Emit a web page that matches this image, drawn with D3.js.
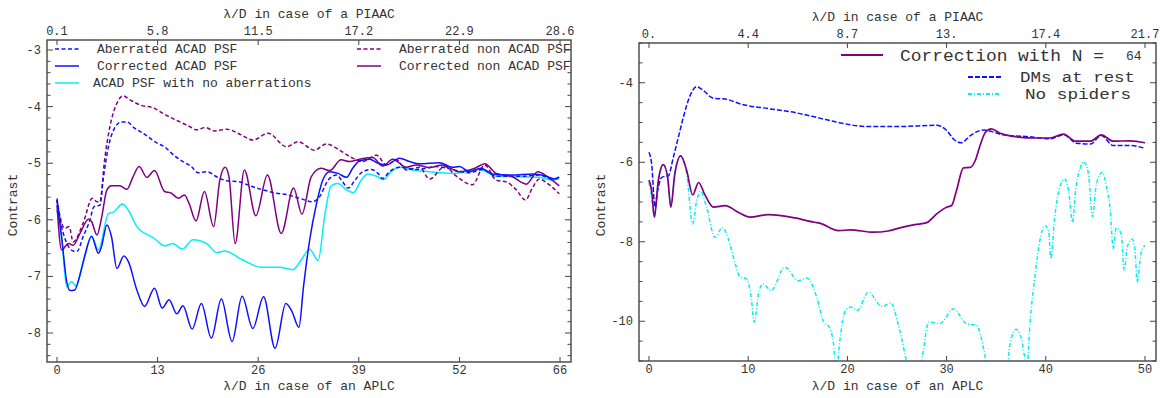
<!DOCTYPE html>
<html><head><meta charset="utf-8">
<script src="https://cdn.jsdelivr.net/npm/d3@7"></script>
<style>
body{margin:0;background:#fff}
text{font-family:"Liberation Mono","DejaVu Sans Mono",monospace;fill:#333}
</style>
</head><body>
<svg id="chart" width="1167" height="398"></svg>
<script>
// ---------------- DATA ----------------
// Left panel: x = lambda/D (APLC), y = log10 contrast
const leftXTicks = [0, 13.1, 26.2, 39.3, 52.4, 65.5];
const leftXTickLabels = ["0", "13", "26", "39", "52", "66"];
const leftTopTickLabels = ["0.1", "5.8", "11.5", "17.2", "22.9", "28.6"];
const leftYTicks = [-3, -4, -5, -6, -7, -8];

const leftAberratedAcad = [[0,-5.65],[0.6,-6.12],[1.3,-6.42],[2.1,-6.55],[2.6,-6.56],[3.4,-6.3],[4.3,-6.0],[4.8,-5.77],[5.6,-5.74],[6.0,-5.3],[6.7,-4.71],[7.5,-4.38],[8.4,-4.27],[9.1,-4.27],[10.1,-4.38],[11.2,-4.47],[13.0,-4.64],[14.0,-4.71],[15.3,-4.87],[16.4,-4.97],[17.5,-5.06],[18.4,-5.17],[19.5,-5.15],[20.8,-5.24],[22.1,-5.31],[23.8,-5.33],[25.1,-5.40],[26.8,-5.47],[28.6,-5.53],[30.1,-5.56],[31.6,-5.62],[33.3,-5.68],[34.2,-5.59],[35.3,-5.30],[36.4,-5.21],[37.2,-5.33],[37.9,-5.44],[38.8,-5.30],[39.8,-5.15],[40.9,-5.11],[41.8,-5.18],[42.4,-5.27],[43.3,-5.15],[44.6,-5.07],[46.8,-5.11],[49.4,-5.06],[51.5,-5.11],[53.7,-5.17],[55.4,-5.11],[57.2,-5.23],[60.2,-5.23],[62.8,-5.21],[64.5,-5.28],[65.4,-5.25]];

const leftCorrectedAcad = [[0,-5.65],[0.6,-6.3],[1.3,-7.12],[1.7,-7.25],[2.3,-7.24],[3.0,-6.97],[3.6,-6.65],[4.5,-6.29],[5.4,-6.59],[5.8,-6.47],[6.5,-6.09],[7.1,-6.30],[7.8,-6.86],[8.7,-6.64],[9.3,-6.74],[10.4,-7.24],[11.4,-7.53],[12.7,-7.21],[13.7,-7.56],[14.6,-7.41],[15.6,-7.66],[16.4,-7.52],[17.6,-7.93],[18.8,-7.48],[20.1,-8.09],[21.4,-7.40],[22.8,-8.15],[24.1,-7.35],[25.5,-7.92],[26.9,-7.36],[28.4,-8.27],[29.8,-7.48],[30.6,-7.62],[31.5,-7.90],[32.1,-7.18],[32.9,-6.36],[33.8,-5.71],[34.6,-5.30],[35.5,-5.15],[36.6,-5.18],[37.7,-5.25],[38.5,-5.09],[39.4,-4.96],[40.7,-4.93],[41.8,-5.0],[42.9,-5.03],[44.6,-4.91],[45.9,-4.97],[47.2,-5.01],[49.8,-4.99],[51.5,-5.07],[52.4,-5.06],[53.7,-5.15],[55.2,-5.09],[56.7,-5.19],[59.3,-5.21],[61.9,-5.19],[63.7,-5.23],[64.8,-5.28],[65.4,-5.24]];

const leftNoAberrations = [[0,-5.83],[0.6,-6.3],[1.26,-7.18],[1.9,-7.09],[2.47,-7.17],[3.4,-6.74],[4.5,-6.3],[5.4,-6.53],[6.7,-5.89],[7.4,-5.86],[8.5,-5.72],[9.3,-5.83],[10.4,-6.12],[12.7,-6.33],[14.0,-6.46],[15.1,-6.42],[16.3,-6.52],[17.7,-6.35],[19.5,-6.42],[20.8,-6.58],[21.8,-6.55],[24.2,-6.71],[26.6,-6.84],[29.0,-6.84],[30.7,-6.88],[31.8,-6.71],[32.9,-6.52],[34.0,-6.72],[34.9,-5.89],[35.7,-5.40],[36.6,-5.36],[37.7,-5.47],[38.6,-5.52],[39.6,-5.30],[40.5,-5.19],[41.6,-5.23],[42.5,-5.29],[43.5,-5.15],[44.6,-5.07],[46.3,-5.12],[48.5,-5.15],[51.5,-5.18],[55,-5.11],[57.2,-5.23],[60.2,-5.24],[62.8,-5.25],[64.5,-5.30],[65.4,-5.27]];

const leftAberratedNon = [[0,-5.62],[0.5,-6.0],[1.0,-6.15],[1.6,-6.12],[2.1,-6.39],[3.4,-6.06],[4.6,-5.62],[5.2,-5.68],[5.6,-5.68],[6.2,-4.94],[6.9,-4.35],[7.8,-3.94],[8.6,-3.81],[9.5,-3.88],[10.8,-3.97],[12.7,-4.03],[13.8,-4.12],[16.0,-4.27],[17.1,-4.34],[18.2,-4.41],[19.3,-4.37],[20.5,-4.43],[22.1,-4.40],[24.0,-4.50],[25.5,-4.59],[27.5,-4.47],[29.9,-4.71],[31.4,-4.62],[33.5,-4.77],[35.1,-4.66],[36.8,-4.77],[38.5,-4.91],[39.8,-4.97],[41.6,-4.86],[42.9,-5.03],[44.2,-4.94],[45.5,-5.12],[47.2,-5.07],[48.5,-5.28],[50.5,-5.06],[52,-5.23],[54.1,-5.38],[55.7,-5.03],[57.2,-5.3],[58.5,-5.33],[59.8,-5.47],[61.0,-5.65],[61.9,-5.44],[62.8,-5.28],[63.9,-5.36],[65.4,-5.54]];

const leftCorrectedNon = [[0,-5.74],[0.6,-6.53],[1.5,-6.42],[2.1,-6.45],[3.0,-6.24],[4.1,-5.99],[4.5,-6.03],[5.2,-6.27],[5.8,-5.97],[6.5,-5.47],[7.1,-5.40],[8.2,-5.40],[9.1,-5.46],[9.9,-5.24],[10.7,-5.06],[11.7,-5.25],[12.7,-5.13],[14.0,-5.50],[14.9,-5.53],[15.8,-5.62],[16.6,-5.56],[17.2,-5.71],[18.1,-6.02],[19.2,-5.50],[20.4,-6.12],[21.2,-5.30],[21.9,-5.07],[22.4,-5.24],[23.2,-6.42],[24.4,-5.12],[25.9,-5.93],[27.4,-5.21],[29.2,-6.24],[30.8,-5.44],[31.9,-5.9],[33.1,-5.24],[34.4,-5.09],[35.5,-5.13],[37.0,-4.94],[38.1,-4.97],[39.4,-4.93],[41.1,-4.9],[42.4,-5.05],[43.7,-4.93],[45.5,-5.07],[46.8,-5.03],[48.5,-5.08],[50.2,-5.03],[52.4,-5.15],[54.4,-5.09],[55.7,-5.01],[57.2,-5.18],[59.3,-5.24],[61.1,-5.37],[62.6,-5.15],[63.9,-5.24],[65.4,-5.40]];

// Right panel
const rightXTicks = [0, 10, 20, 30, 40, 50];
const rightXTickLabels = ["0", "10", "20", "30", "40", "50"];
const rightTopTickLabels = ["0.", "4.4", "8.7", "13.", "17.4", "21.7"];
const rightYTicks = [-4, -6, -8, -10];

const rightCorrection = [[0,-6.45],[0.27,-6.72],[0.54,-7.38],[0.94,-6.46],[1.44,-6.06],[1.88,-6.38],[2.2,-7.13],[2.6,-6.30],[3.2,-5.84],[3.8,-6.21],[4.4,-6.82],[5.0,-6.51],[5.6,-6.80],[6.5,-7.13],[7.7,-7.09],[9.0,-7.26],[10.2,-7.38],[12.0,-7.32],[14.7,-7.40],[16.7,-7.51],[17.2,-7.53],[19.1,-7.72],[20.3,-7.70],[22.6,-7.76],[24.1,-7.73],[25.3,-7.65],[26.8,-7.57],[28.0,-7.52],[29.0,-7.30],[30.0,-7.13],[30.5,-7.09],[31.0,-6.71],[31.7,-6.14],[32.4,-6.13],[32.9,-5.95],[33.4,-5.56],[33.9,-5.25],[34.5,-5.16],[35.4,-5.27],[36.7,-5.35],[39.1,-5.39],[40.4,-5.39],[41.8,-5.29],[43.0,-5.47],[44.5,-5.47],[45.6,-5.31],[46.8,-5.47],[48.5,-5.46],[50.0,-5.51]];

const rightDMsAtRest = [[0,-5.75],[0.27,-6.05],[0.6,-7.13],[0.87,-6.72],[1.28,-6.38],[1.95,-6.34],[2.45,-5.88],[2.96,-5.37],[3.46,-4.87],[4.13,-4.33],[4.8,-4.10],[5.3,-4.16],[6.5,-4.39],[7.7,-4.41],[9.3,-4.54],[12.0,-4.65],[14.7,-4.75],[17.2,-4.89],[19.3,-5.01],[21.9,-5.10],[25.3,-5.10],[29.0,-5.07],[30.0,-5.2],[30.8,-5.44],[31.5,-5.51],[32.4,-5.33],[33.7,-5.19],[35.7,-5.31],[38.4,-5.36],[40.4,-5.41],[41.8,-5.31],[43.1,-5.52],[44.5,-5.54],[45.6,-5.33],[46.8,-5.58],[48.5,-5.58],[50.0,-5.65]];

const rightNoSpiders = [[0,-6.51],[0.27,-6.88],[0.54,-7.38],[0.94,-6.46],[1.44,-6.06],[1.88,-6.38],[2.2,-7.09],[2.6,-6.25],[3.2,-5.84],[3.8,-6.30],[4.4,-7.55],[4.8,-6.97],[5.2,-6.73],[5.8,-7.13],[6.65,-7.89],[7.4,-7.64],[8.0,-7.93],[8.7,-8.56],[9.2,-8.89],[9.8,-8.93],[10.3,-9.39],[10.6,-10.02],[11.1,-9.23],[11.5,-9.06],[12.3,-9.23],[13.7,-8.64],[15.05,-8.98],[15.9,-8.91],[16.9,-9.39],[17.6,-10.02],[18.2,-10.16],[18.6,-10.57],[18.9,-11.3],[19.2,-10.57],[19.8,-9.73],[20.4,-9.64],[21.0,-9.73],[22.1,-9.27],[23.5,-9.63],[24.4,-9.54],[25.1,-10.06],[25.8,-10.82],[26.3,-11.4],[27.0,-11.6],[27.6,-10.82],[28.2,-10.02],[29.3,-10.06],[30.7,-9.69],[32.0,-10.06],[33.0,-10.10],[33.9,-10.9],[34.4,-11.6],[35.5,-11.9],[36.1,-11.3],[36.4,-10.57],[37.0,-10.2],[37.5,-10.4],[37.9,-10.94],[38.1,-11.2],[38.4,-10.06],[38.9,-8.89],[39.4,-7.97],[39.9,-7.59],[40.3,-7.76],[40.5,-8.43],[40.9,-7.38],[41.4,-6.63],[41.9,-6.42],[42.3,-6.71],[42.7,-7.51],[43.0,-6.71],[43.5,-6.13],[43.8,-5.98],[44.3,-6.29],[44.7,-7.37],[45.1,-6.55],[45.7,-6.25],[46.1,-6.59],[46.5,-7.22],[46.8,-8.18],[47.1,-7.65],[47.6,-7.80],[47.9,-8.72],[48.2,-8.14],[48.7,-7.93],[49.0,-8.22],[49.2,-9.02],[49.6,-8.30],[50.0,-8.09]];

// ---------------- DRAWING ----------------
const svg = d3.select("#chart");
const BLUE = "#1010ff", PURPLE = "#800080", CYAN = "#00f0f8";
const FRAME = "#444";

function panel(cfg) {
  const x = d3.scaleLinear().domain(cfg.xDomain).range([cfg.x0, cfg.x1]);
  const y = d3.scaleLinear().domain(cfg.yDomain).range([cfg.y0, cfg.y1]);
  const g = svg.append("g");
  const clipId = "clip" + cfg.id;
  svg.append("clipPath").attr("id", clipId).append("rect")
    .attr("x", cfg.x0).attr("y", cfg.y0).attr("width", cfg.x1 - cfg.x0).attr("height", cfg.y1 - cfg.y0);

  const line = d3.line().x(d => x(d[0])).y(d => y(d[1])).curve(d3.curveMonotoneX);
  const lg = g.append("g").attr("clip-path", `url(#${clipId})`);
  cfg.series.forEach(s => {
    lg.append("path").datum(s.data).attr("d", line)
      .attr("fill", "none").attr("stroke", s.color).attr("stroke-width", s.width || 1.5)
      .attr("stroke-dasharray", s.dash || null).attr("stroke-linejoin", "round");
  });

  g.append("rect").attr("x", cfg.x0).attr("y", cfg.y0)
    .attr("width", cfg.x1 - cfg.x0).attr("height", cfg.y1 - cfg.y0)
    .attr("fill", "none").attr("stroke", FRAME).attr("stroke-width", 1.4);

  cfg.xTicks.forEach((v, i) => {
    const px = x(v);
    g.append("line").attr("x1", px).attr("x2", px).attr("y1", cfg.y1).attr("y2", cfg.y1 - 5).attr("stroke", FRAME);
    g.append("line").attr("x1", px).attr("x2", px).attr("y1", cfg.y0).attr("y2", cfg.y0 + 5).attr("stroke", FRAME);
    g.append("text").attr("x", px).attr("y", cfg.y1 + 12).attr("text-anchor", "middle")
      .attr("font-size", 12).text(cfg.xTickLabels[i]);
    g.append("text").attr("x", px).attr("y", cfg.y0 - 5.5).attr("text-anchor", "middle")
      .attr("font-size", 12).text(cfg.topTickLabels[i]);
  });
  const [ya, yb] = d3.extent(cfg.yDomain);
  const minors = d3.range(Math.ceil(ya / cfg.minorStep) * cfg.minorStep, yb + 1e-9, cfg.minorStep);
  minors.forEach(v => {
    const py = y(v);
    const major = cfg.yTicks.some(t => Math.abs(t - v) < 1e-6);
    const len = major ? 6 : 3.5;
    g.append("line").attr("x1", cfg.x0).attr("x2", cfg.x0 + len).attr("y1", py).attr("y2", py).attr("stroke", FRAME);
    g.append("line").attr("x1", cfg.x1).attr("x2", cfg.x1 - len).attr("y1", py).attr("y2", py).attr("stroke", FRAME);
  });
  cfg.yTicks.forEach(v => {
    g.append("text").attr("x", cfg.x0 - 6).attr("y", y(v) + 4).attr("text-anchor", "end")
      .attr("font-size", 12).text(String(v));
  });
  const cx = (cfg.x0 + cfg.x1) / 2;
  g.append("text").attr("x", cx).attr("y", cfg.y0 - 22).attr("text-anchor", "middle")
    .attr("font-size", 13).text("λ/D in case of a PIAAC");
  g.append("text").attr("x", cx).attr("y", 390).attr("text-anchor", "middle")
    .attr("font-size", 13).text("λ/D in case of an APLC");
  g.append("text").attr("transform", `translate(${cfg.ylabX},205) rotate(-90)`)
    .attr("text-anchor", "middle").attr("font-size", 13).text("Contrast");
  return g;
}

const gl = panel({
  id: "L", x0: 47, x1: 571, y0: 40, y1: 362,
  xDomain: [-1.30, 66.93], yDomain: [-2.823, -8.512],
  xTicks: leftXTicks, xTickLabels: leftXTickLabels, topTickLabels: leftTopTickLabels,
  yTicks: leftYTicks, minorStep: 0.2, ylabX: 17,
  series: [
    {data: leftNoAberrations, color: CYAN},
    {data: leftAberratedNon, color: PURPLE, dash: "4,2.5"},
    {data: leftAberratedAcad, color: BLUE, dash: "4,2.5"},
    {data: leftCorrectedNon, color: PURPLE},
    {data: leftCorrectedAcad, color: BLUE}
  ]
});

const legL = [
  {label: "Aberrated ACAD PSF", color: BLUE, dash: "4,2.5", x: 55, tx: 97, y: 49},
  {label: "Corrected ACAD PSF", color: BLUE, x: 55, tx: 97, y: 66},
  {label: "ACAD PSF with no aberrations", color: CYAN, x: 55, tx: 93, y: 83},
  {label: "Aberrated non ACAD PSF", color: PURPLE, dash: "4,2.5", x: 357, tx: 399, y: 49},
  {label: "Corrected non ACAD PSF", color: PURPLE, x: 357, tx: 399, y: 66}
];
legL.forEach(d => {
  gl.append("line").attr("x1", d.x).attr("x2", d.x + 24).attr("y1", d.y).attr("y2", d.y)
    .attr("stroke", d.color).attr("stroke-width", 1.5).attr("stroke-dasharray", d.dash || null);
  gl.append("text").attr("x", d.tx).attr("y", d.y + 4).attr("font-size", 13).text(d.label);
});

const gr = panel({
  id: "R", x0: 639, x1: 1156, y0: 43, y1: 361,
  xDomain: [-1.008, 51.11], yDomain: [-3.0, -11.0],
  xTicks: rightXTicks, xTickLabels: rightXTickLabels, topTickLabels: rightTopTickLabels,
  yTicks: rightYTicks, minorStep: 0.5, ylabX: 605,
  series: [
    {data: rightNoSpiders, color: CYAN, dash: "4,2,1,2"},
    {data: rightDMsAtRest, color: BLUE, dash: "5,2"},
    {data: rightCorrection, color: PURPLE, width: 1.7}
  ]
});

// Right legend
gr.append("line").attr("x1", 841).attr("x2", 883).attr("y1", 55).attr("y2", 55)
  .attr("stroke", PURPLE).attr("stroke-width", 2);
gr.append("text").attr("x", 900).attr("y", 60.5).attr("font-size", 17)
  .attr("textLength", 204).attr("lengthAdjust", "spacingAndGlyphs").attr("fill", "#222").text("Correction with N =");
gr.append("text").attr("x", 1126).attr("y", 60).attr("font-size", 13).attr("fill", "#222").text("64");
gr.append("line").attr("x1", 968).attr("x2", 1001).attr("y1", 77).attr("y2", 77)
  .attr("stroke", BLUE).attr("stroke-width", 2).attr("stroke-dasharray", "5,2");
gr.append("text").attr("x", 1020).attr("y", 81.5).attr("font-size", 14.5)
  .attr("textLength", 115).attr("lengthAdjust", "spacingAndGlyphs").attr("fill", "#222").text("DMs at rest");
gr.append("line").attr("x1", 968).attr("x2", 1001).attr("y1", 94).attr("y2", 94)
  .attr("stroke", CYAN).attr("stroke-width", 2).attr("stroke-dasharray", "4,2,1,2");
gr.append("text").attr("x", 1025).attr("y", 99).attr("font-size", 14.5)
  .attr("textLength", 106).attr("lengthAdjust", "spacingAndGlyphs").attr("fill", "#222").text("No spiders");
</script>
</body></html>
